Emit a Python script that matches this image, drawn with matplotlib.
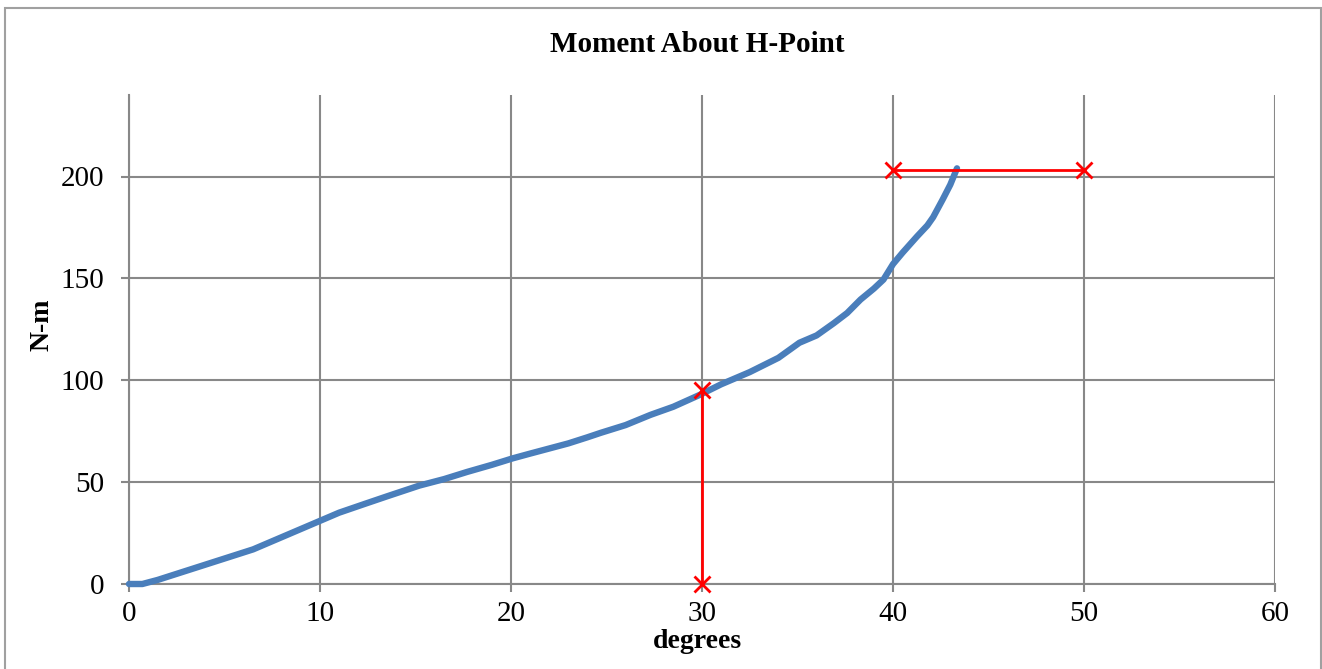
import matplotlib
matplotlib.use("Agg")
from matplotlib import pyplot as plt
from matplotlib.patches import Rectangle

# curve
deg = [0, 0.7, 1.5, 2.5, 3.5, 4.5, 5.5, 6.5, 7.5, 8.5, 10, 11, 12.4, 13.5, 15.2,
       16.5, 17.7, 19, 20.1, 21, 22, 23, 24, 24.7, 26, 27.3, 28.5, 29.9, 31,
       32.5, 34, 35.1, 36, 36.9, 37.6, 38.3, 39, 39.5, 40, 40.5, 41.25, 41.8,
       42.1, 42.6, 43, 43.35]
moment = [0, 0, 2, 5, 8, 11, 14, 17, 21, 25, 31, 35, 39.5, 43, 48.3, 51.5, 55,
          58.5, 61.7, 64, 66.5, 69, 72, 74.2, 78, 83, 87, 92.9, 98, 104, 111,
          118.4, 122, 128, 133, 139.6, 145, 149.4, 157, 162.6, 170.5, 176, 180,
          188.7, 196, 204]

# red markers
vert_x = [30, 30]
vert_y = [0, 95]
horiz_x = [40, 50]
horiz_y = [203, 203]

xticks = [0, 10, 20, 30, 40, 50, 60]
yticks = [0, 50, 100, 150, 200]

plt.rcParams['font.family'] = ['Liberation Serif', 'DejaVu Serif']
grid_c = '#888888'

fig = plt.figure(figsize=(13.22, 6.69), dpi=100)
ax = fig.add_axes([129 / 1322, 1 - 584 / 669, (1275 - 129) / 1322, (584 - 95) / 669])

ax.plot(deg, moment, color='#4a7ebb', lw=4.6, solid_capstyle='round',
        solid_joinstyle='round', zorder=3, clip_on=False)
ax.plot(vert_x, vert_y, color='red', lw=2, marker='x', ms=11, mew=2, zorder=4, clip_on=False)
ax.plot(horiz_x, horiz_y, color='red', lw=2, marker='x', ms=11, mew=2, zorder=4, clip_on=False)

ax.set_xlim(0, 60)
ax.set_ylim(0, 240)
ax.set_xticks(xticks)
ax.set_yticks(yticks)
ax.grid(True, color=grid_c, lw=1.5)
ax.set_axisbelow(True)
for s in ['top', 'right']:
    ax.spines[s].set_visible(False)
for s in ['left', 'bottom']:
    ax.spines[s].set_color(grid_c)
    ax.spines[s].set_linewidth(1.5)
ax.tick_params(axis='both', colors=grid_c, length=6, width=1.5, labelsize=21,
               labelcolor='black')
ax.tick_params(axis='x', pad=6)
ax.tick_params(axis='y', pad=12)

fig.text(697 / 1322, 1 - 45 / 669, 'Moment About H-Point', ha='center', va='center',
         fontsize=21, fontweight='bold')
fig.text(697 / 1322, 1 - 642 / 669, 'degrees', ha='center', va='center',
         fontsize=20, fontweight='bold')
fig.text(42 / 1322, 1 - 325 / 669, 'N-m', ha='center', va='center', rotation=90,
         fontsize=20, fontweight='bold')

fig.patches.append(Rectangle((5 / 1322, -0.05), 1316 / 1322, 1.05 - 8 / 669,
                             transform=fig.transFigure, fill=False,
                             edgecolor='#a0a0a0', lw=1.5))

fig.savefig('out.png', dpi=100)
